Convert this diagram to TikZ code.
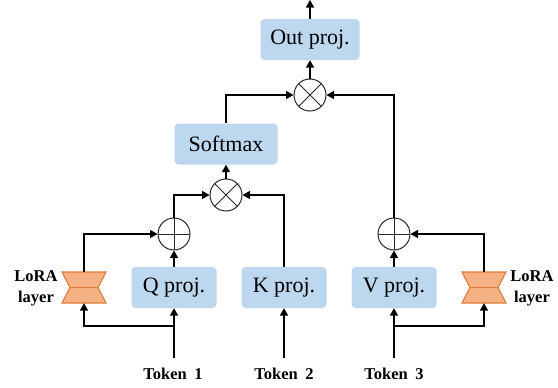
\documentclass[tikz,border=0pt]{standalone}
\usepackage{fontspec}
\setmainfont{Liberation Serif}
\usetikzlibrary{arrows.meta,calc}
\definecolor{boxblue}{HTML}{BDD7EE}
\definecolor{lorafill}{HTML}{F4B183}
\definecolor{loraline}{HTML}{E07B39}
\tikzset{
  x=1pt,y=-1pt,
  proj/.style={fill=boxblue,rounded corners=4pt,inner sep=0pt,font=\fontsize{22}{24}\selectfont,text=black},
  opnode/.style={circle,draw=black!85,line width=1pt,minimum size=32pt,inner sep=0pt},
  plusop/.style={opnode,path picture={\draw[line width=1pt,black!85] (path picture bounding box.north)--(path picture bounding box.south) (path picture bounding box.west)--(path picture bounding box.east);}},
  timesop/.style={opnode,path picture={\draw[line width=1pt,black!85] (path picture bounding box.north west)--(path picture bounding box.south east) (path picture bounding box.north east)--(path picture bounding box.south west);}},
  conn/.style={line width=1.6pt,black,-{Triangle[length=7.5pt,width=8pt]}},
  lab/.style={font=\bfseries\fontsize{16.5}{20}\selectfont,inner sep=0pt,align=center,text=black},
  tok/.style={lab,minimum height=32pt},
  lorabox/.style={minimum width=44pt,minimum height=31pt,inner sep=0pt},
  hourglass/.style={fill=lorafill,draw=loraline,line width=1.1pt,line join=miter}
}
\newcommand{\hourglassat}[1]{%
  \draw[hourglass] ($(#1)+(-22,-15.5)$) -- ($(#1)+(22,-15.5)$) -- ($(#1)+(14,0)$) -- ($(#1)+(22,15.5)$) -- ($(#1)+(-22,15.5)$) -- ($(#1)+(-14,0)$) -- cycle;
  \draw[hourglass] ($(#1)+(-14,0)$) -- ($(#1)+(14,0)$);}
\begin{document}
\begin{tikzpicture}
\useasboundingbox (0,0) rectangle (558,388);
\node[proj,minimum width=99pt,minimum height=41pt] (out) at (310,39.5) {Out proj.};
\node[timesop] (m2) at (310,95) {};
\node[proj,minimum width=103pt,minimum height=41pt] (soft) at (226,144) {Softmax};
\node[timesop] (m1) at (226,195) {};
\node[plusop] (p1) at (174,234) {};
\node[plusop] (p2) at (394,234) {};
\node[proj,minimum width=85pt,minimum height=41pt] (qp) at (174,287.5) {Q proj.};
\node[proj,minimum width=85pt,minimum height=41pt] (kp) at (284,287.5) {K proj.};
\node[proj,minimum width=85pt,minimum height=41pt] (vp) at (394,287.5) {V proj.};
\node[lorabox] (l1) at (84,287.5) {};
\node[lorabox] (l2) at (484,287.5) {};
\hourglassat{l1}
\hourglassat{l2}
\node[lab] (l1t) at (36,288) {LoRA\\[1pt]layer};
\node[lab] (l2t) at (532,288) {LoRA\\[1pt]layer};
\node[tok] (t1) at (173,374) {Token\hspace{0.2em} 1};
\node[tok] (t2) at (284,374) {Token\hspace{0.2em} 2};
\node[tok] (t3) at (394,374) {Token\hspace{0.2em} 3};
\coordinate (j1) at (174,326);
\coordinate (j3) at (394,326);
\coordinate (top) at (310,0);
\draw[conn] (t1.north -| qp.south) -- (qp.south);
\draw[conn] (t2.north -| kp.south) -- (kp.south);
\draw[conn] (t3.north -| vp.south) -- (vp.south);
\draw[conn] (j1) -| (l1.south);
\draw[conn] (j3) -| (l2.south);
\draw[conn] (l1.north) |- (p1.west);
\draw[conn] (l2.north) |- (p2.east);
\draw[conn] (qp.north) -- (p1.south);
\draw[conn] (vp.north) -- (p2.south);
\draw[conn] (p1.north) |- (m1.west);
\draw[conn] (kp.north) |- (m1.east);
\draw[conn] (m1.north) -- (soft.south);
\draw[conn] (soft.north) |- (m2.west);
\draw[conn] (p2.north) |- (m2.east);
\draw[conn] (m2.north) -- (out.south);
\draw[conn] (out.north) -- (top);
\end{tikzpicture}
\end{document}
